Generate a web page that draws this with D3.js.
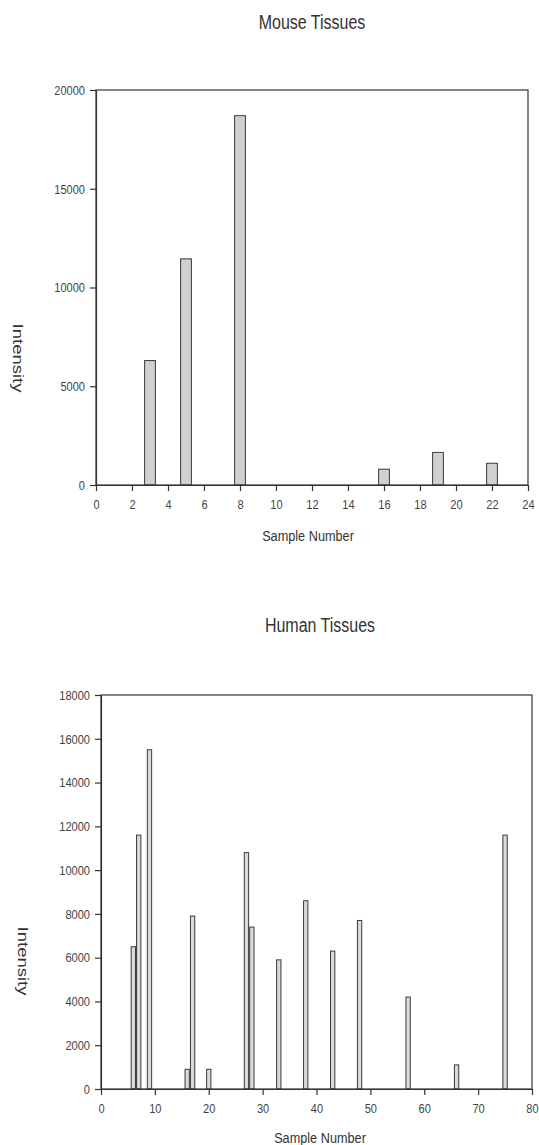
<!DOCTYPE html>
<html>
<head>
<meta charset="utf-8">
<script src="https://cdn.jsdelivr.net/npm/d3@7"></script>
<style>
  html, body { margin: 0; padding: 0; background: #fff; }
  svg { display: block; }
  text { font-family: "Liberation Sans", Arial, sans-serif; }
</style>
</head>
<body>
<svg id="chart" width="539" height="1145"></svg>
<script>
// ---- Data ----
const mouseSamples   = [3, 5, 8, 16, 19, 22];
const mouseIntensity = [6300, 11450, 18700, 800, 1650, 1100];
const mouseXTicks    = [0, 2, 4, 6, 8, 10, 12, 14, 16, 18, 20, 22, 24];
const mouseYTicks    = [0, 5000, 10000, 15000, 20000];

const humanSamples   = [6, 7, 9, 16, 17, 20, 27, 28, 33, 38, 43, 48, 57, 66, 75];
const humanIntensity = [6500, 11600, 15500, 900, 7900, 900, 10800, 7400, 5900, 8600, 6300, 7700, 4200, 1100, 11600];
const humanXTicks    = [0, 10, 20, 30, 40, 50, 60, 70, 80];
const humanYTicks    = [0, 2000, 4000, 6000, 8000, 10000, 12000, 14000, 16000, 18000];

const titles = ["Mouse Tissues", "Human Tissues"];
const xTitle = "Sample Number";
const yTitle = "Intensity";

// ---- Drawing ----
const svg = d3.select("#chart");
const SX = 0.82; // horizontal squeeze of the scanned figure

function textAt(g, x, y, str, size, opts = {}) {
  const grp = g.append("g").attr("transform", `translate(${x},${y}) scale(${SX},1)` + (opts.rotate ? ` rotate(${opts.rotate})` : ""));
  grp.append("text")
    .attr("text-anchor", "middle")
    .attr("dominant-baseline", opts.central ? "central" : "alphabetic")
    .attr("font-size", size)
    .attr("fill", opts.fill || "#333")
    .text(str);
}

function panel(cfg) {
  const g = svg.append("g");
  const x = d3.scaleLinear().domain(cfg.xDomain).range([cfg.left, cfg.right]);
  const y = d3.scaleLinear().domain(cfg.yDomain).range([cfg.bottom, cfg.top]);

  // bars
  g.append("g").selectAll("rect")
    .data(cfg.samples.map((s, i) => ({ s, v: cfg.values[i] })))
    .join("rect")
    .attr("x", d => x(d.s - cfg.barW / 2))
    .attr("width", d => x(d.s + cfg.barW / 2) - x(d.s - cfg.barW / 2))
    .attr("y", d => y(d.v))
    .attr("height", d => y(0) - y(d.v))
    .attr("fill", cfg.fill)
    .attr("stroke", "#3a3a3a")
    .attr("stroke-width", 1);

  // frame
  g.append("rect")
    .attr("x", cfg.left).attr("y", cfg.top)
    .attr("width", cfg.right - cfg.left).attr("height", cfg.bottom - cfg.top)
    .attr("fill", "none").attr("stroke", "#333").attr("stroke-width", 1.2);

  // x axis
  const xa = g.append("g").attr("transform", `translate(0,${cfg.bottom})`)
    .call(d3.axisBottom(x).tickValues(cfg.xTicks).tickSize(6).tickSizeOuter(0).tickPadding(8).tickFormat(d3.format("d")));
  // y axis
  const ya = g.append("g").attr("transform", `translate(${cfg.left},0)`)
    .call(d3.axisLeft(y).tickValues(cfg.yTicks).tickSize(6).tickSizeOuter(0).tickFormat(d3.format("d")));

  [xa, ya].forEach(a => {
    a.select(".domain").attr("stroke", "#333").attr("stroke-width", 1.2);
    a.selectAll(".tick line").attr("stroke", "#333").attr("stroke-width", 1.2);
    a.selectAll(".tick text")
      .attr("font-size", 13.5)
      .attr("fill", "#444")
      .attr("font-family", "Liberation Sans, Arial, sans-serif");
  });
  xa.selectAll(".tick text").attr("transform", `scale(${SX},1)`);
  ya.selectAll(".tick text").attr("x", -11 / SX).attr("transform", `scale(${SX},1)`);

  textAt(g, cfg.titleX, cfg.titleY, cfg.title, 19.5);
  textAt(g, cfg.xtX, cfg.xtY, xTitle, 15.5);
  textAt(g, cfg.ytX, cfg.ytY, yTitle, 18.5, { rotate: 90, central: true });
}

panel({
  samples: mouseSamples, values: mouseIntensity,
  xDomain: [0, 24], yDomain: [0, 20000],
  xTicks: mouseXTicks, yTicks: mouseYTicks,
  left: 96, right: 528, top: 90, bottom: 485,
  barW: 0.6, fill: "#d0d0d0",
  title: titles[0], titleX: 312, titleY: 29,
  xtX: 308, xtY: 541, ytX: 18, ytY: 358
});

panel({
  samples: humanSamples, values: humanIntensity,
  xDomain: [0, 80], yDomain: [0, 18000],
  xTicks: humanXTicks, yTicks: humanYTicks,
  left: 101, right: 532, top: 695, bottom: 1089,
  barW: 0.8, fill: "#dadada",
  title: titles[1], titleX: 320, titleY: 632,
  xtX: 320, xtY: 1143, ytX: 23, ytY: 961
});
</script>
</body>
</html>
